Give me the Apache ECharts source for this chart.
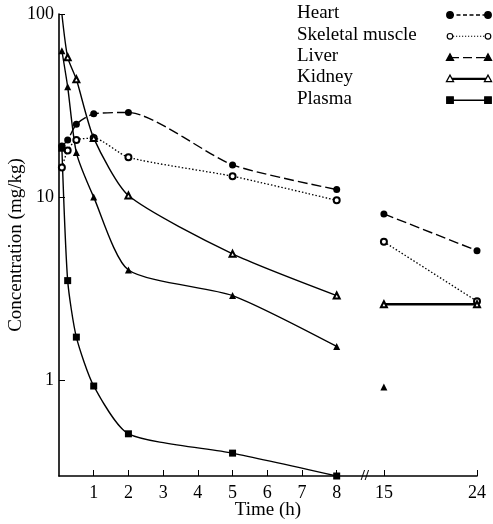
<!DOCTYPE html>
<html>
<head>
<meta charset="utf-8">
<script src="https://cdn.jsdelivr.net/npm/echarts@6/dist/echarts.min.js"></script>
<style>
html, body { margin: 0; padding: 0; background: #fff; }
#chart { width: 493px; height: 524px; }
</style>
</head>
<body>
<div id="chart"></div>
<script>
// sampling times (h), 0-8 h part and the late part after the axis break
var times = [0.083, 0.25, 0.5, 1, 2, 5, 8];
var lateTimes = [15, 24];

// concentrations (mg/kg)
var heart  = [19, 20.5, 25, 28.5, 29, 15, 11];
var muscle = [14.5, 18, 20.5, 21, 16.5, 13, 9.6];
var liver  = [63, 40, 17.5, 10, 4.0, 2.9, 1.53];
var kidney = [100, 58, 44, 21, 10.2, 4.9, 2.9];
var plasma = [18.5, 3.5, 1.72, 0.93, 0.51, 0.40, 0.30];

var heartLate  = [8.1, 5.1];
var muscleLate = [5.7, 2.7];
var liverLate  = [0.92, null];
var kidneyLate = [2.6, 2.6];

var xTicks = [1, 2, 3, 4, 5, 6, 7, 8, 15, 24];
var yTicks = [1, 10, 100];
var names = ['Heart', 'Skeletal muscle', 'Liver', 'Kidney', 'Plasma'];

var FONT = '"Liberation Serif", "DejaVu Serif", serif';

// broken time axis: 0-8 h linear, then 15-24 h squeezed
function pos(t) { return t <= 8 ? t : 9.36 + (t - 15) * 0.298; }
function back(p) { return p <= 8.01 ? p : 15 + (p - 9.36) / 0.298; }

function pairs(ts, vs) {
    return ts.map(function (t, i) {
        var v = vs[i];
        if (v === null) { return [pos(t), null]; }
        // value sitting on the top of the scale: no marker
        if (v >= 100) { return { value: [pos(t), v], symbol: 'none' }; }
        return [pos(t), v];
    });
}

var looks = [
    { early: heart,  late: heartLate,  symbol: 'circle',        size: 7, dash: [10, 4],  width: 1.4 },
    { early: muscle, late: muscleLate, symbol: 'emptyCircle',   size: 6, dash: [1.5, 2], width: 1.3 },
    { early: liver,  late: liverLate,  symbol: 'triangle',      size: 7, dash: 'solid',  width: 1.4 },
    { early: kidney, late: kidneyLate, symbol: 'emptyTriangle', size: 6, dash: 'solid',  width: 1.4 },
    { early: plasma, late: null,       symbol: 'rect',          size: 7, dash: 'solid',  width: 1.4 }
];

var series = [];
looks.forEach(function (s, i) {
    series.push({
        name: names[i],
        type: 'line',
        smooth: 0.22,
        data: pairs(times, s.early),
        symbol: s.symbol,
        symbolSize: s.size,
        itemStyle: { color: '#000', borderWidth: 1.2 },
        lineStyle: { color: '#000', width: s.width, type: s.dash },
        z: 3
    });
    if (s.late) {
        series.push({
            name: names[i] + ' late',
            type: 'line',
            data: pairs(lateTimes, s.late),
            symbol: s.symbol,
            symbolSize: s.size,
            itemStyle: { color: '#000', borderWidth: 1.2 },
            lineStyle: { color: '#000', width: i === 3 ? 2.6 : s.width, type: s.dash },
            z: 3
        });
    }
});

// legend drawn by hand: text on the left, line with markers at both ends on the right
function legendMark(kind, x, y) {
    var st = { fill: kind.indexOf('empty') === 0 ? '#fff' : '#000', stroke: '#000', lineWidth: 1.2 };
    if (kind === 'circle' || kind === 'emptyCircle') {
        return { type: 'circle', shape: { cx: x, cy: y, r: kind === 'circle' ? 3.3 : 2.8 }, style: st, z: 10 };
    }
    if (kind === 'rect') {
        return { type: 'rect', shape: { x: x - 3.3, y: y - 3.3, width: 6.6, height: 6.6 }, style: st, z: 10 };
    }
    return { type: 'polygon', shape: { points: [[x, y - 3.8], [x + 3.6, y + 2.8], [x - 3.6, y + 2.8]] }, style: st, z: 10 };
}

var legendDash = [[4, 2.5], [1.2, 1.8], [9, 4], null, null];
var legendWidth = [1.4, 1.1, 1.4, 2.4, 1.4];
var graphic = [];
names.forEach(function (n, i) {
    var y = 15 + i * 21.3;
    graphic.push({
        type: 'text', left: 297, top: y - 11,
        style: { text: n, font: '19px ' + FONT, fill: '#000' }
    });
    graphic.push({
        type: 'line', shape: { x1: 450, y1: y, x2: 488, y2: y },
        style: { stroke: '#000', lineWidth: legendWidth[i], lineDash: legendDash[i] }, z: 9
    });
    graphic.push(legendMark(looks[i].symbol, 450, y));
    graphic.push(legendMark(looks[i].symbol, 488, y));
});

var chart = echarts.init(document.getElementById('chart'));
chart.setOption({
    animation: false,
    backgroundColor: '#fff',
    grid: { left: 59, right: 16, top: 14, bottom: 48, outerBoundsMode: 'none' },
    xAxis: {
        type: 'value',
        min: 0,
        max: pos(24),
        name: 'Time (h)',
        nameLocation: 'middle',
        nameGap: 25,
        nameMoveOverlap: false,
        nameTextStyle: { fontFamily: FONT, fontSize: 19, color: '#000' },
        splitLine: { show: false },
        axisLine: { lineStyle: { color: '#000', width: 1.6 } },
        axisTick: { inside: true, length: 6, lineStyle: { color: '#000', width: 1 },
                    customValues: xTicks.map(pos) },
        axisLabel: {
            customValues: xTicks.map(pos),
            margin: 8,
            fontFamily: FONT, fontSize: 18, color: '#000',
            formatter: function (v) { return String(Math.round(back(v))); }
        }
    },
    yAxis: {
        type: 'log',
        logBase: 10,
        min: 0.3,
        max: 100,
        name: 'Concentration (mg/kg)',
        nameLocation: 'middle',
        nameGap: 33,
        nameMoveOverlap: false,
        nameTextStyle: { fontFamily: FONT, fontSize: 19, color: '#000' },
        splitLine: { show: false },
        axisLine: { lineStyle: { color: '#000', width: 1.6 } },
        axisTick: { inside: true, length: 6, lineStyle: { color: '#000', width: 1 },
                    customValues: yTicks },
        axisLabel: {
            customValues: yTicks,
            margin: 5,
            fontFamily: FONT, fontSize: 18, color: '#000'
        }
    },
    graphic: graphic,
    series: series
});

// "//" break mark on the time axis between 8 and 15 h
var bp = chart.convertToPixel({ xAxisIndex: 0, yAxisIndex: 0 }, [8.81, 0.3]);
graphic.push({
    type: 'text', x: bp[0], y: bp[1],
    style: { text: '//', font: 'bold 15px ' + FONT, fill: '#000', align: 'center', verticalAlign: 'middle' },
    z: 10
});
chart.setOption({ graphic: graphic });
</script>
</body>
</html>
